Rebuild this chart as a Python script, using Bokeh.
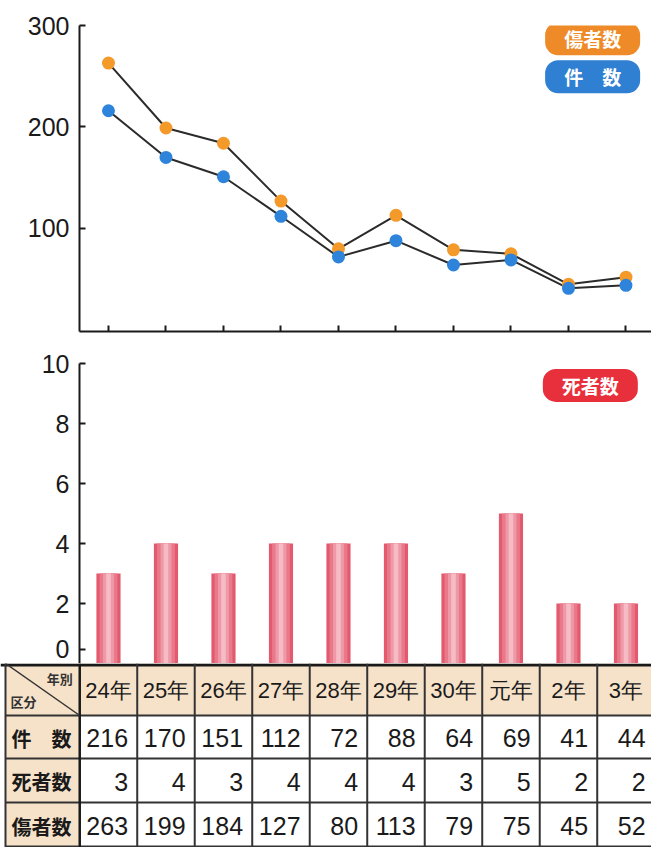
from bokeh.plotting import figure
from bokeh.models import Range1d, FixedTicker
from bokeh.models import Label
from bokeh.core.properties import value
from bokeh.embed import file_html
from bokeh.resources import INLINE

# ---------------- data ----------------
years = ["24年", "25年", "26年", "27年", "28年", "29年", "30年", "元年", "2年", "3年"]
cases = [216, 170, 151, 112, 72, 88, 64, 69, 41, 44]        # 件数
deaths = [3, 4, 3, 4, 4, 4, 3, 5, 2, 2]                      # 死者数
injured = [263, 199, 184, 127, 80, 113, 79, 75, 45, 52]      # 傷者数
row_labels = ["件　数", "死者数", "傷者数"]
corner_top = "年別"
corner_bottom = "区分"
legend_cases = "件　数"
legend_injured = "傷者数"
legend_deaths = "死者数"
top_ticks = [100, 200, 300]
bar_ticks = [2, 4, 6, 8, 10]

# ---------------- layout constants ----------------
idx = list(range(len(years)))
W = 651
PX = 57.5                          # pixels per category
X0 = -0.504
X1 = X0 + (W - 79) / PX            # plot x-range (category index units)
XT0 = X0 - 79 / PX                 # table range starts at the page edge
NUM_FONT = "Liberation Sans"
JP_FONT = "Noto Sans CJK JP"
INK = "#1a1a1a"


def base_style(p):
    p.outline_line_color = None
    p.grid.visible = False
    p.background_fill_color = "white"
    p.border_fill_color = "white"


def style_yaxis(ax):
    ax.axis_line_color = INK
    ax.axis_line_width = 2
    ax.major_tick_in = 6
    ax.major_tick_out = 0
    ax.major_tick_line_color = INK
    ax.major_tick_line_width = 2
    ax.minor_tick_line_color = None
    ax.major_label_text_font = NUM_FONT
    ax.major_label_text_font_size = "25px"
    ax.major_label_text_color = INK
    ax.major_label_standoff = 10


# ---------------- top: line chart ----------------
pa = figure(width=W, height=345, x_range=Range1d(X0, X1), y_range=Range1d(-1.5, 300),
            output_backend="svg", toolbar_location=None,
            min_border_left=79, min_border_right=0, min_border_top=25, min_border_bottom=14)
base_style(pa)
pa.yaxis.ticker = FixedTicker(ticks=top_ticks)
style_yaxis(pa.yaxis[0])
pa.xaxis.ticker = FixedTicker(ticks=idx)
pa.xaxis.axis_line_color = INK
pa.xaxis.axis_line_width = 2
pa.xaxis.major_tick_in = 6
pa.xaxis.major_tick_out = 0
pa.xaxis.major_tick_line_color = INK
pa.xaxis.major_tick_line_width = 2
pa.xaxis.minor_tick_line_color = None
pa.xaxis.major_label_text_color = None
pa.xaxis.major_label_standoff = 0

pa.line(idx, injured, line_color="#2b2b2b", line_width=2)
pa.line(idx, cases, line_color="#2b2b2b", line_width=2)
pa.scatter(idx, injured, size=13, fill_color="#f39a2a", line_color=None)
pa.scatter(idx, cases, size=13, fill_color="#2e84da", line_color=None)

for txt, ypos, col in [(legend_injured, 287.0, "#ee8a27"), (legend_cases, 249.5, "#2f7fd2")]:
    pa.add_layout(Label(x=8.42, y=ypos, text=txt, text_align="center", text_baseline="middle",
                        text_font=JP_FONT, text_font_style="bold", text_font_size="19px",
                        text_color="white", background_fill_color=col, border_radius=13,
                        padding=(19, 3)))

# ---------------- middle: bar chart ----------------
pb = figure(width=W, height=318, x_range=Range1d(X0, X1), y_range=Range1d(0, 10),
            output_backend="svg", toolbar_location=None,
            min_border_left=79, min_border_right=0, min_border_top=18, min_border_bottom=0)
base_style(pb)
pb.xaxis.visible = False
zero_pos = 0.47                    # the "0" label sits a little above the baseline
pb.yaxis.ticker = FixedTicker(ticks=[zero_pos] + bar_ticks)
pb.yaxis.major_label_overrides = {zero_pos: "0"}
style_yaxis(pb.yaxis[0])

for w, c in [(0.42, "#e35a6e"), (0.31, "#e9788a"), (0.19, "#ef98a6"), (0.08, "#f5bcc6")]:
    pb.vbar(x=idx, top=deaths, width=w, bottom=0, fill_color=c, line_color=None)

pb.add_layout(Label(x=8.38, y=9.27, text=legend_deaths, text_align="center", text_baseline="middle",
                    text_font=JP_FONT, text_font_style="bold", text_font_size="19px",
                    text_color="white", background_fill_color="#e8303c", border_radius=13,
                    padding=(19, 3)))

# ---------------- bottom: table ----------------
row_edges = [0, 52, 95, 139, 184]
pc = figure(width=W, height=184, x_range=Range1d(XT0, X1), y_range=Range1d(184, 0),
            output_backend="svg", toolbar_location=None, min_border=0,
            x_axis_type=None, y_axis_type=None)
base_style(pc)

BEIGE = "#f6e2c9"
XL = XT0 + 5 / PX                  # left outer border
pc.quad(left=[XL], right=[X1], top=[row_edges[0]], bottom=[row_edges[1]], fill_color=BEIGE, line_color=None)
pc.quad(left=[XL], right=[-0.5], top=[row_edges[1]], bottom=[row_edges[-1]], fill_color=BEIGE, line_color=None)

# horizontal rules
pc.segment(x0=[XL] * 3, y0=row_edges[1:4], x1=[X1] * 3, y1=row_edges[1:4], line_color="#333333", line_width=2)
pc.segment(x0=[XT0], y0=[1.5], x1=[X1], y1=[1.5], line_color=INK, line_width=3)
pc.segment(x0=[XL], y0=[183], x1=[X1], y1=[183], line_color="#333333", line_width=2)
# vertical rules
vx = [i + 0.5 for i in idx[:-1]]
pc.segment(x0=vx, y0=[0] * len(vx), x1=vx, y1=[184] * len(vx), line_color="#333333", line_width=2)
pc.segment(x0=[-0.5], y0=[0], x1=[-0.5], y1=[184], line_color=INK, line_width=2.5)
pc.segment(x0=[XL], y0=[0], x1=[XL], y1=[184], line_color="#333333", line_width=2)
# corner diagonal
pc.segment(x0=[XL], y0=[0], x1=[-0.5], y1=[row_edges[1]], line_color="#333333", line_width=1.5)
pc.text(x=[-0.62], y=[15], text=[corner_top], text_align="right", text_baseline="middle",
        text_font=value(JP_FONT), text_font_style="bold", text_font_size="13px", text_color="#333333")
pc.text(x=[XT0 + 10 / PX], y=[38], text=[corner_bottom], text_align="left", text_baseline="middle",
        text_font=value(JP_FONT), text_font_style="bold", text_font_size="13px", text_color="#333333")

# header
pc.text(x=idx, y=[27] * len(idx), text=years, text_align="center", text_baseline="middle",
        text_font=value(NUM_FONT), text_font_size="22px", text_color=INK)

# rows
row_mid = [(row_edges[k] + row_edges[k + 1]) / 2 + 1 for k in range(1, 4)]
pc.text(x=[XT0 + 41 / PX] * 3, y=row_mid, text=row_labels, text_align="center", text_baseline="middle",
        text_font=value(JP_FONT), text_font_style="bold", text_font_size="20px", text_color=INK)
for vals, ym in zip([cases, deaths, injured], row_mid):
    pc.text(x=[i + 0.34 for i in idx], y=[ym] * len(idx), text=[str(v) for v in vals],
            text_align="right", text_baseline="middle", text_font=value(NUM_FONT),
            text_font_size="25px", text_color=INK)

open("out.html", "w").write(file_html([pa, pb, pc], INLINE))
